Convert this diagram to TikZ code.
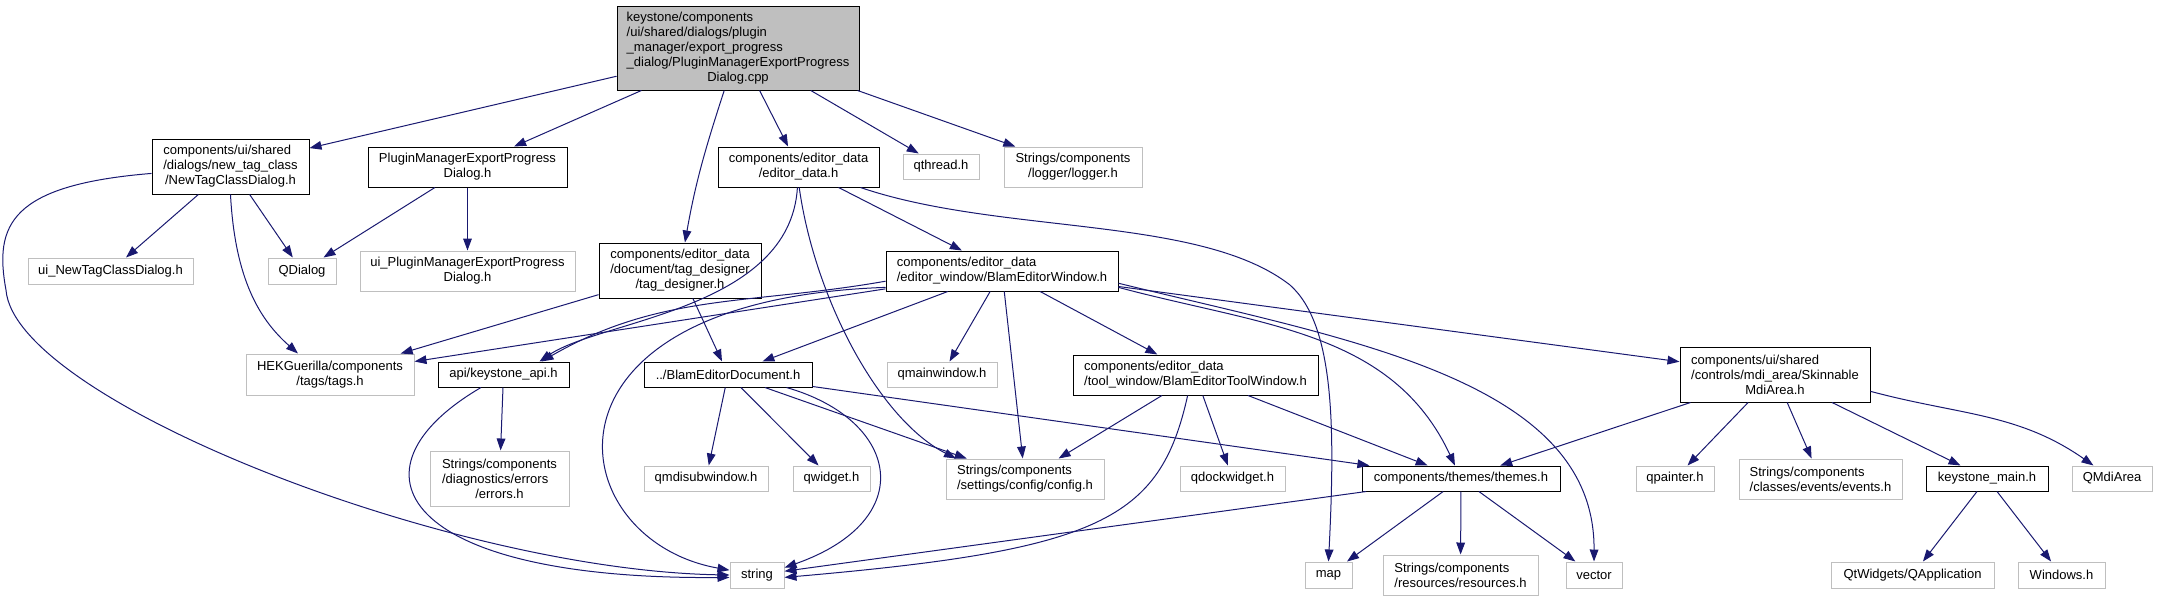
\documentclass[tikz,border=0pt]{standalone}
\usepackage{fontspec}
\setmainfont{Liberation Sans}
\usetikzlibrary{arrows.meta,calc}
\definecolor{edgeblue}{RGB}{25,25,112}
\definecolor{boxgray}{RGB}{191,191,191}
\newcommand{\cl}[1]{\hspace*{\fill}#1\hspace*{\fill}}

\begin{document}
\begin{tikzpicture}[x=0.75pt,y=0.75pt]
            \tikzset{sz/.style 2 args = {minimum width=#1*0.75pt, minimum height=#2*0.75pt}}
            \tikzset{hnode/.style = {rectangle, draw=black, fill=white, line width=0.75pt, align=left, inner xsep=4pt, inner ysep=1.5pt, font=\fontsize{9.75}{11.25}\selectfont}}
            \tikzset{snode/.style = {hnode, draw=boxgray}}
            \tikzset{rootnode/.style = {hnode, fill=boxgray}}
            \tikzset{edge/.style = {draw=edgeblue, line width=0.75pt, -{Triangle[length=9pt,width=6.5pt]}}}
            \useasboundingbox (0,0) rectangle (2158,-601);

            \node[rootnode, sz={242}{84}] (root) at (738,-48) {keystone/components\\ /ui/shared/dialogs/plugin\\ \_manager/export\_progress\\ \_dialog/PluginManagerExportProgress\\ \cl{Dialog.cpp}};

            \node[hnode, sz={157}{55}] (newtag) at (230.5,-166.5) {components/ui/shared\\ /dialogs/new\_tag\_class\\ \cl{/NewTagClassDialog.h}};
            \node[hnode, sz={199}{40}] (pmepd) at (467.5,-167) {PluginManagerExportProgress\\ \cl{Dialog.h}};
            \node[hnode, sz={161}{40}] (edata) at (798.5,-167) {components/editor\_data\\ \cl{/editor\_data.h}};
            \node[snode, sz={76}{25}] (qthread) at (941,-166.5) {qthread.h};
            \node[snode, sz={138}{40}] (logger) at (1073,-167) {Strings/components\\ \cl{/logger/logger.h}};

            \node[snode, sz={165}{26}] (uintcd) at (110.5,-271) {ui\_NewTagClassDialog.h};
            \node[snode, sz={68}{26}] (qdialog) at (302,-271) {QDialog};
            \node[snode, sz={215}{40}] (uipmepd) at (467.5,-271) {ui\_PluginManagerExportProgress\\ \cl{Dialog.h}};
            \node[hnode, sz={162}{55}] (tagdes) at (680,-270.5) {components/editor\_data\\ /document/tag\_designer\\ \cl{/tag\_designer.h}};
            \node[hnode, sz={232}{40}] (bew) at (1002,-271) {components/editor\_data\\ \cl{/editor\_window/BlamEditorWindow.h}};

            \node[snode, sz={168}{41}] (tags) at (330,-374.5) {HEKGuerilla/components\\ \cl{/tags/tags.h}};
            \node[hnode, sz={131}{25}] (kapi) at (503.5,-374.5) {api/keystone\_api.h};
            \node[hnode, sz={168}{25}] (bed) at (728,-374.5) {../BlamEditorDocument.h};
            \node[snode, sz={110}{25}] (qmainwindow) at (942,-374.5) {qmainwindow.h};
            \node[hnode, sz={245}{40}] (betw) at (1195.5,-375) {components/editor\_data\\ \cl{/tool\_window/BlamEditorToolWindow.h}};
            \node[hnode, sz={190}{55}] (skin) at (1775,-374.5) {components/ui/shared\\ /controls/mdi\_area/Skinnable\\ \cl{MdiArea.h}};

            \node[snode, sz={139}{55}] (errors) at (499.5,-478.5) {Strings/components\\ /diagnostics/errors\\ \cl{/errors.h}};
            \node[snode, sz={124}{25}] (qmdisub) at (706,-478.5) {qmdisubwindow.h};
            \node[snode, sz={77}{25}] (qwidget) at (831.5,-478.5) {qwidget.h};
            \node[snode, sz={158}{40}] (config) at (1025,-479) {Strings/components\\ \cl{/settings/config/config.h}};
            \node[snode, sz={105}{25}] (qdock) at (1232.5,-478.5) {qdockwidget.h};
            \node[hnode, sz={198}{25}] (themes) at (1461,-478.5) {components/themes/themes.h};
            \node[snode, sz={78}{25}] (qpainter) at (1675,-478.5) {qpainter.h};
            \node[snode, sz={163}{40}] (events) at (1820.5,-479) {Strings/components\\ \cl{/classes/events/events.h}};
            \node[hnode, sz={122}{25}] (kmain) at (1987,-478.5) {keystone\_main.h};
            \node[snode, sz={80}{25}] (qmdiarea) at (2112,-478.5) {QMdiArea};

            \node[snode, sz={54}{26}] (string) at (757,-575) {string};
            \node[snode, sz={47}{26}] (map) at (1328.5,-575) {map};
            \node[snode, sz={155}{40}] (resources) at (1460.5,-575) {Strings/components\\ \cl{/resources/resources.h}};
            \node[snode, sz={56}{26}] (vector) at (1594,-575) {vector};
            \node[snode, sz={163}{26}] (qapp) at (1912.5,-575) {QtWidgets/QApplication};
            \node[snode, sz={87}{26}] (windows) at (2061.5,-575) {Windows.h};

            % includes of the .cpp
            \draw[edge] (root) -- (newtag);
            \draw[edge] (root) -- (pmepd);
            \draw[edge] (root) to[out=-108,in=80] (tagdes);
            \draw[edge] (root) -- (edata);
            \draw[edge] (root) -- (qthread);
            \draw[edge] (root) -- (logger);

            \draw[edge] (newtag) -- (uintcd);
            \draw[edge] (newtag) -- (qdialog);
            \draw[edge] (newtag.south) .. controls (235,-280) and (260,-320) .. ($(tags.north)+(-32,0)$);
            \draw[edge] (newtag.185) .. controls (10,-185) and (-6,-225) .. (6,-290) .. controls (15,-400) and (450,-570) .. (string.west);

            \draw[edge] (pmepd) -- (qdialog);
            \draw[edge] (pmepd) -- (uipmepd);

            \draw[edge] (edata) -- (bew);
            \draw[edge] (edata.-93) .. controls (790,-310) and (600,-320) .. ($(kapi.north)+(36,0)$);
            \draw[edge] (edata.-88) .. controls (815,-300) and (880,-420) .. ($(config.north)+(-69,0)$);
            \draw[edge] ($(edata.south east)+(-19,0)$) .. controls (1000,-235) and (1200,-215) .. (1290,-285) .. controls (1335,-325) and (1335,-430) .. (map.north);

            \draw[edge] (tagdes) -- (tags);
            \draw[edge] (tagdes) -- (bed);

            \draw[edge] (bew) -- (tags);
            \draw[edge] (bew.185) to[out=190,in=30] ($(kapi.north)+(38,0)$);
            \draw[edge] (bew.188) .. controls (520,-300) and (560,-540) .. (string.170);
            \draw[edge] (bew) -- (bed);
            \draw[edge] (bew) -- (qmainwindow);
            \draw[edge] (bew) -- (config);
            \draw[edge] (bew) -- (betw);
            \draw[edge] (bew.-8) to[out=-15,in=115] (themes);
            \draw[edge] (bew.-6) .. controls (1350,-340) and (1595,-380) .. (vector.north);
            \draw[edge] (bew) -- (skin);

            \draw[edge] (kapi) -- (errors);
            \draw[edge] (kapi.-150) .. controls (340,-470) and (400,-580) .. (string.185);

            \draw[edge] (bed) -- (qmdisub);
            \draw[edge] (bed) -- (qwidget);
            \draw[edge] (bed) -- (config);
            \draw[edge] (bed) -- (themes);
            \draw[edge] ($(bed.south east)+(-26,0)$) .. controls (900,-420) and (920,-520) .. (string.15);

            \draw[edge] (betw) -- (config);
            \draw[edge] (betw) -- (qdock);
            \draw[edge] (betw) -- (themes);
            \draw[edge] (betw.-111) .. controls (1160,-520) and (1100,-550) .. (string.-5);

            \draw[edge] (themes) -- (map);
            \draw[edge] (themes) -- (resources);
            \draw[edge] (themes) -- (vector);
            \draw[edge] (themes) -- (string);

            \draw[edge] (skin) -- (themes);
            \draw[edge] (skin) -- (qpainter);
            \draw[edge] (skin) -- (events);
            \draw[edge] (skin) -- (kmain);
            \draw[edge] (skin.-10) to[out=-15,in=145] (qmdiarea);

            \draw[edge] (kmain) -- (qapp);
            \draw[edge] (kmain) -- (windows);
\end{tikzpicture}
\end{document}
